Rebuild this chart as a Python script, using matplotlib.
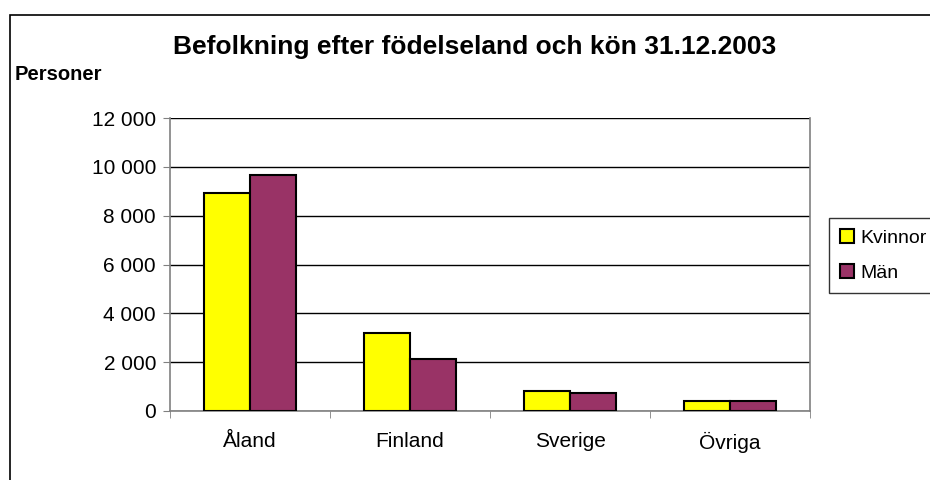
import matplotlib.pyplot as plt
import numpy as np
from matplotlib.patches import Rectangle
from matplotlib.ticker import FuncFormatter

plt.rcParams['font.family'] = ['Liberation Sans', 'DejaVu Sans']

categories = ['Åland', 'Finland', 'Sverige', 'Övriga']
kvinnor = [8930, 3200, 820, 400]
man = [9670, 2120, 730, 400]
series_names = ['Kvinnor', 'Män']

fig = plt.figure(figsize=(9.3, 4.8), dpi=100)
ax = fig.add_axes([170/930, 1 - 411/480, 640/930, 293/480])

x = np.arange(len(categories))
w = 0.29
ax.bar(x - w/2, kvinnor, w, color='#ffff00', edgecolor='black', linewidth=1.5, label=series_names[0], zorder=3)
ax.bar(x + w/2, man, w, color='#993366', edgecolor='black', linewidth=1.5, label=series_names[1], zorder=3)

ax.set_xlim(-0.5, len(categories) - 0.5)
ax.set_ylim(0, 12000)
ax.set_yticks(range(0, 12001, 2000))
ax.yaxis.set_major_formatter(FuncFormatter(lambda v, p: f'{int(v):,}'.replace(',', ' ')))
ax.yaxis.grid(True, color='black', linewidth=1)
ax.set_axisbelow(True)

ax.set_xticks(x)
ax.set_xticklabels(categories, fontsize=15)
ax.set_xticks(np.arange(-0.5, len(categories)), minor=True)
ax.tick_params(axis='x', which='major', length=0, pad=15)
ax.tick_params(axis='x', which='minor', length=5, color='gray', direction='out')
ax.tick_params(axis='y', length=5, color='gray', labelsize=15, pad=5)

ax.spines['top'].set_visible(False)
for s in ['left', 'right', 'bottom']:
    ax.spines[s].set_color('gray')
    ax.spines[s].set_linewidth(1.2)

fig.text(475/930, 1 - 47/480, 'Befolkning efter födelseland och kön 31.12.2003',
         ha='center', va='center', fontsize=19, fontweight='bold')
fig.text(15/930, 1 - 75/480, 'Personer', ha='left', va='center', fontsize=14.5, fontweight='bold')

# outer chart border
fig.patches.append(Rectangle((10/930, -0.05), 1.0, 1 - 15/480 + 0.05, transform=fig.transFigure,
                             fill=False, edgecolor='black', linewidth=1.2))

leg = fig.legend(loc='upper left', bbox_to_anchor=(829/930, 1 - 218/480), fontsize=14,
                 frameon=True, fancybox=False, edgecolor='black', handlelength=0.75,
                 handleheight=0.75, handletextpad=0.3, borderpad=0.55, borderaxespad=0,
                 labelspacing=0.9)
leg.get_frame().set_linewidth(1)

fig.savefig('out.png', dpi=100)
